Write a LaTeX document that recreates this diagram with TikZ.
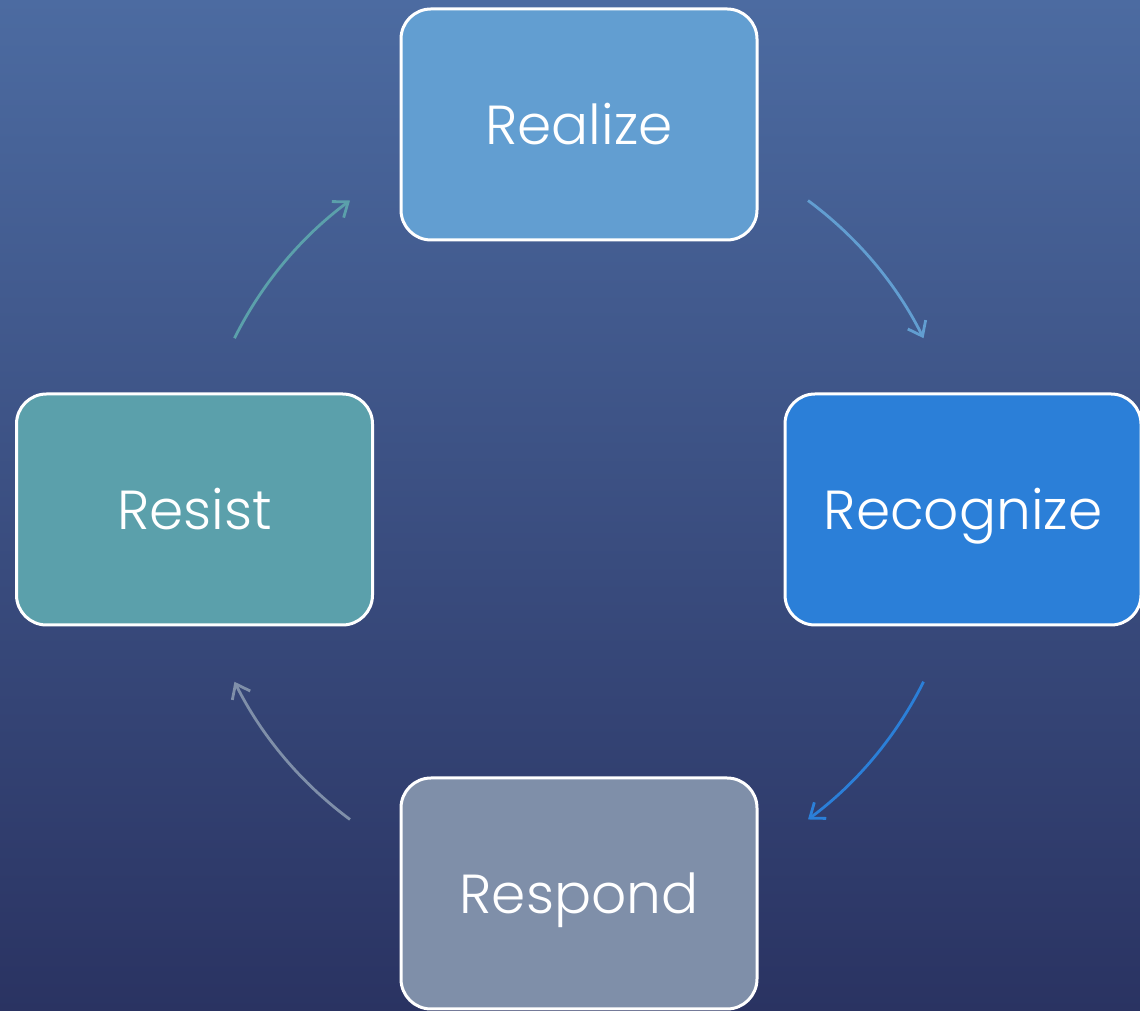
\documentclass[tikz,border=0pt]{standalone}
\usepackage{fontspec}
\setmainfont{Poppins}[UprightFont=* Light]
\usetikzlibrary{arrows.meta}
\definecolor{bgtop}{HTML}{4C6BA1}
\definecolor{bgbot}{HTML}{2A3362}
\definecolor{cRealize}{HTML}{629ED1}
\definecolor{cRecognize}{HTML}{2B7FD8}
\definecolor{cRespond}{HTML}{7F8FA9}
\definecolor{cResist}{HTML}{5BA0AB}
\tikzset{
  box/.style={draw=white, line width=3pt, rounded corners=30pt,
    minimum width=356pt, minimum height=231pt, text=white,
    font=\fontsize{55}{60}\selectfont, inner sep=0pt,
    text height=41pt, text depth=0pt},
  cyc/.style={line width=2.8pt, -{Straight Barb[length=13pt,width=20pt,line width=2.8pt]}}
}
\begin{document}
\begin{tikzpicture}[x=1pt,y=1pt]
\useasboundingbox (0,0) rectangle (1140,1011);
\shade[top color=bgtop, bottom color=bgbot] (0,0) rectangle (1140,1011);
\begin{scope}
\clip (0,0) rectangle (1140,1011);
\node[box, fill=cRealize] (realize) at (579,886.5) {Realize};
\node[box, fill=cRecognize] (recognize) at (963,501.5) {Recognize};
\node[box, fill=cRespond] (respond) at (579,117.5) {Respond};
\node[box, fill=cResist] (resist) at (194.5,501.5) {Resist};
\end{scope}
\coordinate (c) at (579,501);
\coordinate (a1) at ([shift={(53.5:385)}]c);
\coordinate (a2) at ([shift={(-26.5:385)}]c);
\coordinate (a3) at ([shift={(-126.5:385)}]c);
\coordinate (a4) at ([shift={(153.5:385)}]c);
\draw[cyc, draw=cRealize] (a1) arc[start angle=53.5, end angle=26.5, radius=385];
\draw[cyc, draw=cRecognize] (a2) arc[start angle=-26.5, end angle=-53.5, radius=385];
\draw[cyc, draw=cRespond] (a3) arc[start angle=-126.5, end angle=-153.5, radius=385];
\draw[cyc, draw=cResist] (a4) arc[start angle=153.5, end angle=126.5, radius=385];
\end{tikzpicture}
\end{document}
